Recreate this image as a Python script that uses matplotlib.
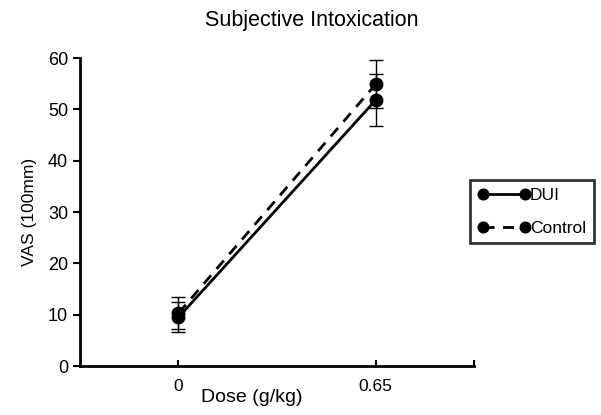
import matplotlib
matplotlib.use("Agg")
import matplotlib.pyplot as plt

plt.rcParams['font.family'] = ['Liberation Sans', 'DejaVu Sans']

# dose groups and group means / SEM
doses = ["0", "0.65"]
dui_mean = [9.5, 51.8]
dui_err = [2.9, 5.1]
control_mean = [10.3, 54.9]
control_err = [3.1, 4.7]

fig = plt.figure(figsize=(6.01, 4.15), dpi=100)
ax = fig.add_axes([0.133, 0.118, 0.656, 0.742])

x = list(range(len(doses)))
ax.errorbar(x, dui_mean, yerr=dui_err, color='black', linestyle='-', linewidth=2,
            marker='o', markersize=9, elinewidth=1, capsize=5, capthick=1, label='DUI')
ax.errorbar(x, control_mean, yerr=control_err, color='black', linestyle='--', linewidth=2,
            dashes=(4, 3), marker='o', markersize=9, elinewidth=1, capsize=5, capthick=1,
            label='Control')

ax.set_xlim(-0.5, 1.5)
ax.set_ylim(0, 60)
ax.set_xticks(x + [1.5])
ax.set_xticklabels(doses + [""], fontsize=12.5)
ax.set_yticks(range(0, 61, 10))
ax.tick_params(axis='y', labelsize=13, direction='out', length=5, width=1.5)
ax.tick_params(axis='x', direction='in', length=4, width=1.5, pad=9)

for s in ['top', 'right']:
    ax.spines[s].set_visible(False)
for s in ['left', 'bottom']:
    ax.spines[s].set_linewidth(2)

# title sits right of the axes centre in the original
ax.set_title("Subjective Intoxication", fontsize=15.5, pad=23, x=0.589)
ax.set_ylabel("VAS (100mm)", fontsize=12.5, labelpad=8)
ax.set_xlabel("Dose (g/kg)", fontsize=14)
ax.xaxis.set_label_coords(0.435, -0.075)

handles, labels = ax.get_legend_handles_labels()
handles = [h[0] for h in handles]
leg = fig.legend(handles, labels, loc='upper left', bbox_to_anchor=(0.782, 0.566),
                 borderaxespad=0, numpoints=2, handlelength=3.0, handletextpad=0.0,
                 fontsize=12.5, markerscale=0.85, fancybox=False, frameon=True,
                 borderpad=0.45, labelspacing=1.0)
leg.get_frame().set_edgecolor('black')
leg.get_frame().set_linewidth(2)

fig.savefig("out.png", dpi=100)
